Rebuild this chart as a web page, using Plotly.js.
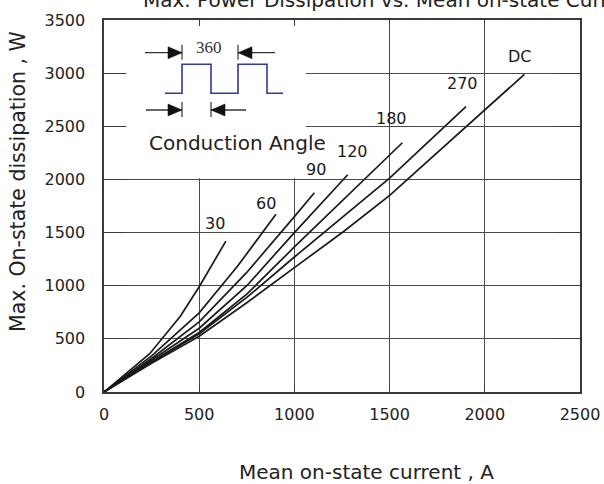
<!DOCTYPE html>
<html>
<head>
<meta charset="utf-8">
<script src="https://cdn.plot.ly/plotly-3.0.1.min.js"></script>
<style>html,body{margin:0;padding:0;background:#fff;}#chart{width:604px;height:484px;}</style>
</head>
<body>
<div id="chart"></div>
<script>
// ---- data ----
const curveNames = ["30", "60", "90", "120", "180", "270", "DC"];
const x30 = [0, 240, 400, 500, 640];
const y30 = [0, 360, 710, 990, 1420];
const x60 = [0, 250, 500, 700, 903];
const y60 = [0, 340, 745, 1180, 1672];
const x90 = [0, 250, 500, 750, 1000, 1105];
const y90 = [0, 315, 660, 1125, 1650, 1875];
const x120 = [0, 250, 500, 750, 1000, 1280];
const y120 = [0, 300, 600, 1000, 1500, 2044];
const x180 = [0, 250, 500, 750, 1000, 1500, 1567];
const y180 = [0, 285, 560, 920, 1365, 2235, 2345];
const x270 = [0, 250, 500, 750, 1000, 1500, 1901];
const y270 = [0, 280, 548, 890, 1270, 2013, 2684];
const xDC = [0, 250, 500, 750, 1000, 1257, 1502, 1677, 2208];
const yDC = [0, 270, 525, 840, 1170, 1508, 1853, 2135, 2989];
const xTickVals = [0, 500, 1000, 1500, 2000, 2500];
const yTickVals = [0, 500, 1000, 1500, 2000, 2500, 3000, 3500];

const xs = [x30, x60, x90, x120, x180, x270, xDC];
const ys = [y30, y60, y90, y120, y180, y270, yDC];

// label offsets (px) relative to each curve's last point
const labelShift = [[-11, 18], [-10, 11], [2, 23], [5, 23], [-11, 24], [-3, 23], [-4, 18]];

const FONT = "DejaVu Sans";
const INK = "#1a1a1a";

const traces = curveNames.map((n, i) => ({
  type: "scatter", mode: "lines", name: n,
  x: xs[i], y: ys[i],
  line: {color: INK, width: 1.7},
  showlegend: false, hoverinfo: "skip"
}));

const annotations = curveNames.map((n, i) => ({
  x: xs[i][xs[i].length - 1], y: ys[i][ys[i].length - 1],
  xref: "x", yref: "y", text: n, showarrow: false,
  xshift: labelShift[i][0], yshift: labelShift[i][1],
  font: {family: FONT, size: 16, color: INK}
}));

// plot-area geometry helpers for the inset sketch (pixel -> paper)
const L = 104, T = 20, W = 476, H = 372;
const px = v => (v - L) / W;
const py = v => (T + H - v) / H;
const path = pts => pts.map((p, k) => (k ? "L" : "M") + px(p[0]).toFixed(5) + "," + py(p[1]).toFixed(5)).join(" ");

// axis titles and inset caption
annotations.push({xref: "paper", yref: "paper", x: px(366), y: py(472), text: "Mean on-state current , A",
  showarrow: false, font: {family: FONT, size: 20, color: "#222"}, xanchor: "center", yanchor: "middle"});
annotations.push({xref: "paper", yref: "paper", x: px(18), y: py(182), text: "Max. On-state dissipation , W",
  showarrow: false, textangle: -90, font: {family: FONT, size: 20.5, color: "#222"}, xanchor: "center", yanchor: "middle"});
annotations.push({xref: "paper", yref: "paper", x: px(147), y: py(143), text: "Conduction Angle",
  showarrow: false, font: {family: FONT, size: 20, color: "#222"}, xanchor: "left", yanchor: "middle"});
annotations.push({xref: "paper", yref: "paper", x: px(209), y: py(47.5), text: "360",
  showarrow: false, font: {family: "Liberation Serif", size: 17, color: "#333"}, xanchor: "center", yanchor: "middle"});

const shapes = [];
// white panel hiding the grid behind the inset
shapes.push({type: "rect", xref: "x", yref: "y", x0: 0, x1: 1060, y0: 2012, y1: 3500,
  fillcolor: "#ffffff", line: {width: 0}, layer: "between"});
// square wave
shapes.push({type: "path", xref: "paper", yref: "paper", layer: "above",
  path: path([[165, 93.3], [182, 93.3], [182, 64.3], [211, 64.3], [211, 93.3], [238, 93.3], [238, 64.3], [267, 64.3], [267, 93.3], [283, 93.3]]),
  line: {color: "#2e3a96", width: 1.6}});
function arrow(tip, y, tail) {
  const d = tail < tip ? -1 : 1;
  shapes.push({type: "path", xref: "paper", yref: "paper", layer: "above",
    path: path([[tail, y], [tip, y]]), line: {color: "#333", width: 1.3}});
  shapes.push({type: "path", xref: "paper", yref: "paper", layer: "above",
    path: path([[tip, y], [tip + d * 14, y - 6], [tip + d * 14, y + 6]]) + " Z",
    fillcolor: "#111", line: {color: "#111", width: 0.5}});
  shapes.push({type: "path", xref: "paper", yref: "paper", layer: "above",
    path: path([[tip, y - 8], [tip, y + 7]]), line: {color: "#333", width: 1.2}});
}
arrow(182, 52.7, 145);
arrow(238, 52.7, 275);
arrow(182, 110, 146);
arrow(211, 110, 246);

const axisCommon = {
  showgrid: true, gridcolor: "#4a4a4a", gridwidth: 1.1,
  showline: true, linecolor: "#3a3a3a", linewidth: 1.6, mirror: "ticks",
  ticks: "inside", tickcolor: "#3a3a3a", tickwidth: 1.1,
  zeroline: false, fixedrange: true,
  tickfont: {family: FONT, size: 16, color: "#222"}
};

const layout = {
  width: 604, height: 484,
  margin: {l: L, r: 604 - L - W, t: T, b: 484 - T - H, pad: 0},
  paper_bgcolor: "#fff", plot_bgcolor: "#fff",
  title: {text: "Max. Power Dissipation vs. Mean on-state Current", xref: "container", yref: "container",
    x: 143 / 604, xanchor: "left", y: 1, yanchor: "middle",
    font: {family: FONT, size: 20, color: "#222"}},
  xaxis: Object.assign({}, axisCommon, {range: [0, 2500], tickvals: xTickVals, ticklen: 6, ticklabelstandoff: 7}),
  yaxis: Object.assign({}, axisCommon, {range: [0, 3500], tickvals: yTickVals, ticklen: 22, ticklabelstandoff: 14}),
  annotations: annotations,
  shapes: shapes,
  showlegend: false
};

Plotly.newPlot("chart", traces, layout, {staticPlot: true, displayModeBar: false});
</script>
</body>
</html>
